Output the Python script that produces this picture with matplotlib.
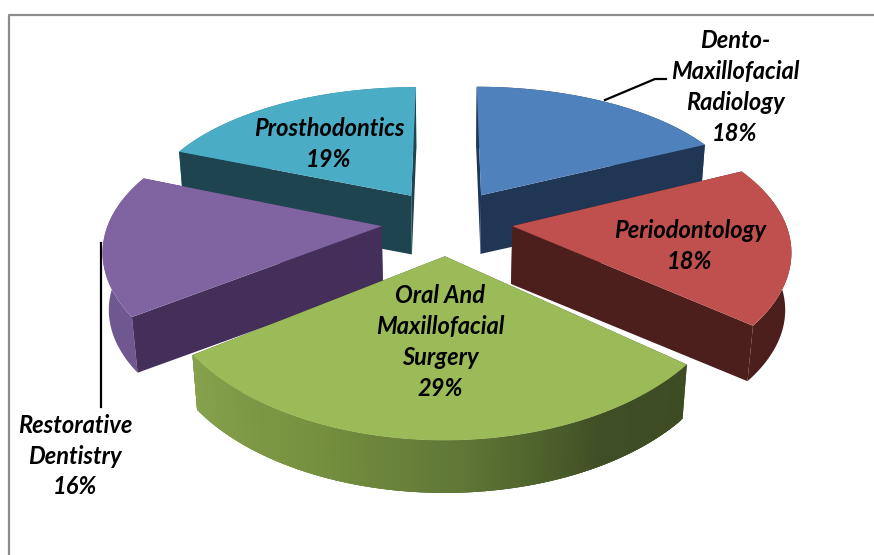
import numpy as np
import matplotlib
matplotlib.use("Agg")
import matplotlib.pyplot as plt
from matplotlib.patches import Polygon
from matplotlib.colors import to_rgb

labels = ["Dento-\nMaxillofacial\nRadiology\n18%", "Periodontology\n18%",
          "Oral And\nMaxillofacial\nSurgery\n29%", "Restorative\nDentistry\n16%",
          "Prosthodontics\n19%"]
values = [18, 18, 29, 16, 19]
top_colors = ["#4f81bd", "#c0504d", "#9bbb59", "#8064a2", "#4bacc6"]
side_colors = ["#203655", "#4c1f1d", "#3e4c23", "#432f5a", "#1e4450"]
rim_colors = ["#203655", "#4c1f1d", "#3e4c23", "#6f5790", "#2f7f95"]
label_pos = [(735, 87), (690, 246), (440, 342), (75, 456), (329, 144)]

# perspective view of the flat pie, in picture pixels
CX, CY = 447, 222
A, B = 273, 136.8
KX, KY = 0.15, 0.18
DEPTH = 58
BOTTOM_SCALE = 0.982
EXPLODE = 0.24


def project(x, y, z=0):
    px = A * x / (1 + KX * y)
    py = -B * y / (1 + KY * y)
    if z:
        px, py = px * BOTTOM_SCALE, py * 0.975 + DEPTH
    return CX + px, CY + py


def wall(ax, xs, ys, color, zorder):
    tx, ty = project(xs, ys)
    bx, by = project(xs, ys, 1)
    pts = np.r_[np.c_[tx, ty], np.c_[bx, by][::-1]]
    ax.add_patch(Polygon(pts, closed=True, fc=color, ec="none", zorder=zorder))


fig = plt.figure(figsize=(8.74, 5.55), dpi=100)
ax = fig.add_axes([0, 0, 1, 1])
ax.set_xlim(0, 874)
ax.set_ylim(555, 0)
ax.axis("off")

# frame is only on the top and left of the screenshot
ax.plot([9, 9, 874], [555, 15, 15], color="#8c8c8c", lw=1.6, zorder=1)

edges = np.cumsum([0] + values) / sum(values) * 2 * np.pi
green_stops = [(0.0, "#86a24d"), (0.3, "#76903f"), (0.55, "#5f7636"), (0.8, "#3f4e24"), (1.0, "#3e4c23")]

# back slices first so the front ones cover them
order = [4, 0, 3, 1, 2]
z = 2
for i in order:
    a0, a1 = edges[i], edges[i + 1]
    mid = (a0 + a1) / 2
    ox, oy = EXPLODE * np.sin(mid), EXPLODE * np.cos(mid)
    t = np.linspace(a0, a1, 160)
    arc_x, arc_y = ox + np.sin(t), oy + np.cos(t)

    # the front slice hides its cut faces behind the rim, the others show them
    face_z = z if a0 < np.pi < a1 else z + 1
    rim_z = z + 1 if a0 < np.pi < a1 else z

    if i == 2:
        pos = [s[0] for s in green_stops]
        for j in range(len(t) - 1):
            f = 1 - j / (len(t) - 2)
            rgb = [np.interp(f, pos, [to_rgb(s[1])[c] for s in green_stops]) for c in range(3)]
            wall(ax, arc_x[j:j + 4], arc_y[j:j + 4], rgb, rim_z)
    else:
        wall(ax, arc_x, arc_y, rim_colors[i], rim_z)

    for fx, fy in [(arc_x[0], arc_y[0]), (arc_x[-1], arc_y[-1])]:
        wall(ax, np.array([ox, fx]), np.array([oy, fy]), side_colors[i], face_z)

    px, py = project(np.r_[ox, arc_x], np.r_[oy, arc_y])
    ax.add_patch(Polygon(np.c_[px, py], closed=True, fc=top_colors[i], ec="none", zorder=z + 2))
    z += 3

# leader lines
ax.plot([605, 655, 666], [100, 79, 79], color="black", lw=1.6, zorder=z)
ax.plot([101, 101], [243, 407], color="black", lw=1.6, zorder=z)

for lab, (lx, ly) in zip(labels, label_pos):
    ax.text(lx, ly, lab, ha="center", va="center", family="Lato", style="italic",
            weight="bold", fontsize=17, linespacing=1.41, color="black", zorder=z + 1)

fig.savefig("out.png", dpi=100)
